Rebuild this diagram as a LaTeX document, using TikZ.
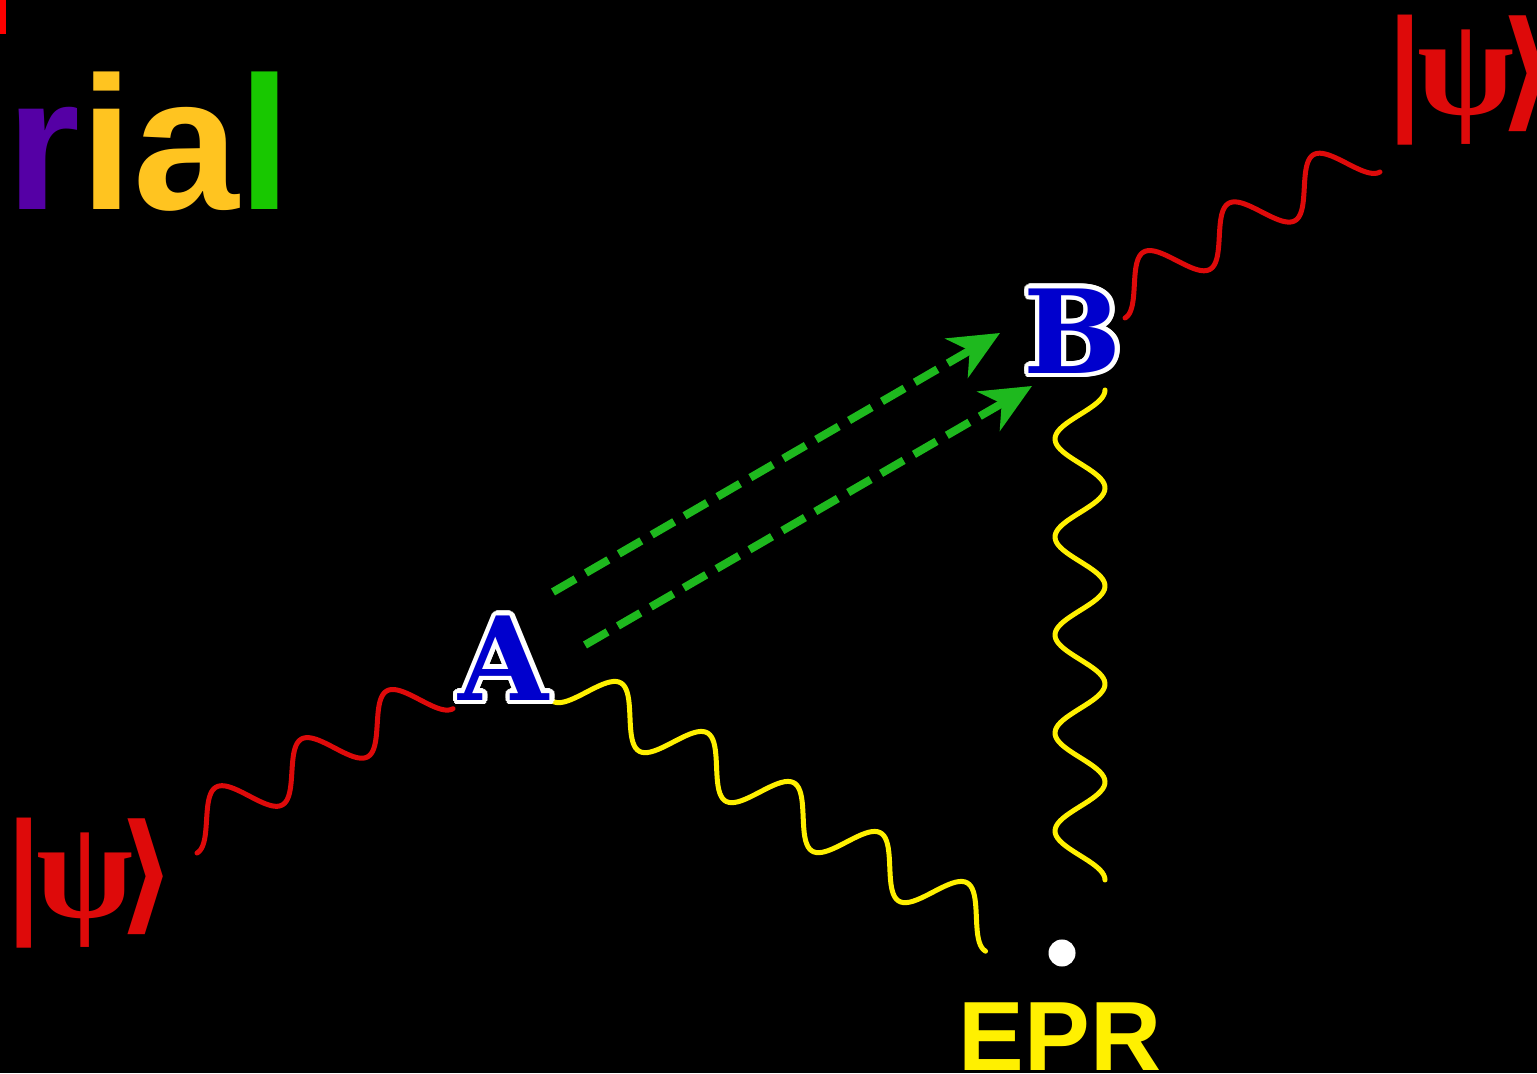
\documentclass[tikz,border=0pt]{standalone}
\usepackage{fontspec}
\setmainfont{Liberation Sans}
\newfontfamily\kfont{DejaVu Sans}
\newfontfamily\gfont{Liberation Serif}
\newfontfamily\lfont{DejaVu Serif}
\usetikzlibrary{calc,arrows.meta}

\definecolor{RialPurple}{RGB}{85,0,165}
\definecolor{RialGold}{RGB}{255,196,32}
\definecolor{RialGreen}{RGB}{24,200,0}
\definecolor{WaveRed}{RGB}{222,10,10}
\definecolor{WaveYellow}{RGB}{255,240,0}
\definecolor{ArrowGreen}{RGB}{30,185,30}
\definecolor{LetterBlue}{RGB}{0,0,205}
\definecolor{TopRed}{RGB}{255,0,0}

\newcommand{\psiket}{{\kfont\bfseries|}\kern-3.4pt{\gfont\bfseries\fontsize{40}{40}\selectfont ψ}\kern-4.4pt{\kfont\bfseries ⟩}}

\begin{document}
\begin{tikzpicture}[
    x=0.01cm, y=0.01cm,
    letter/.style={font=\lfont\bfseries\fontsize{33}{33}\selectfont, inner sep=0},
    ket/.style={text=WaveRed, font=\fontsize{37}{37}\selectfont, inner sep=0},
    wave/.style={line width=0.05cm, line cap=round, line join=round},
    dasharr/.style={ArrowGreen, line width=0.08cm, dash pattern=on 0.26cm off 0.12cm,
        -{Stealth[length=0.5cm, width=0.45cm, inset=0.15cm]}}
]
    \useasboundingbox (0,0) rectangle (1537,1073);
    \fill[black] (0,0) rectangle (1537,1073);
    \clip (0,0) rectangle (1537,1073);

    % title fragment
    \fill[TopRed] (0,1039) rectangle (6,1073);
    \node[anchor=base west, inner sep=0, font=\bfseries\fontsize{54}{54}\selectfont] (title) at (6,863)
        {\textcolor{RialPurple}{r}\textcolor{RialGold}{ia}\textcolor{RialGreen}{l}};

    % states and EPR source
    \node[ket] (psiL) at (89,190) {\psiket};
    \node[ket] (psiR) at (1470,993) {\psiket};
    \node[circle, fill=white, minimum size=0.27cm, inner sep=0] (dot) at (1062,120) {};
    \node[font=\bfseries\fontsize{28}{28}\selectfont, text=WaveYellow, anchor=base, inner sep=0] (epr) at (1060,3) {EPR};

    % where the waves start
    \coordinate (psiLwave) at (197,220);
    \coordinate (Awave) at (552.5,371.8);
    \coordinate (Bwave) at (1105,683);
    \coordinate (Bout) at (1125,755);

    % waves: start / angle / length / wavelength / amplitude / colour
    \foreach \p/\ang/\len/\lam/\amp/\col in {
        psiLwave/29.41/293.9/97.97/24/WaveRed,
        Awave/-30/500/100/25/WaveYellow,
        Bwave/-90/490/98/-25/WaveYellow,
        Bout/29.8/293.8/97.93/24/WaveRed}
        \draw[wave, \col, shift={(\p)}, rotate=\ang]
            plot[domain=0:\len, samples=200] (\x, {\amp-\amp*cos(\x/\lam*360)});

    % classical bits
    \coordinate (g1) at (553,481);
    \coordinate (g2) at (1000,740);
    \coordinate (g3) at (585,428);
    \coordinate (g4) at (1032,687);
    \draw[dasharr] (g1) -- (g2);
    \draw[dasharr] (g3) -- (g4);

    % outlined letters
    \foreach \ang in {0,20,...,340} {
        \node[letter, text=white] at ($(504,415)+(\ang:4.5)$) {A};
        \node[letter, text=white] at ($(1073,742)+(\ang:4.5)$) {B};
    }
    \node[letter, text=LetterBlue] (A) at (504,415) {A};
    \node[letter, text=LetterBlue] (B) at (1073,742) {B};
\end{tikzpicture}
\end{document}
